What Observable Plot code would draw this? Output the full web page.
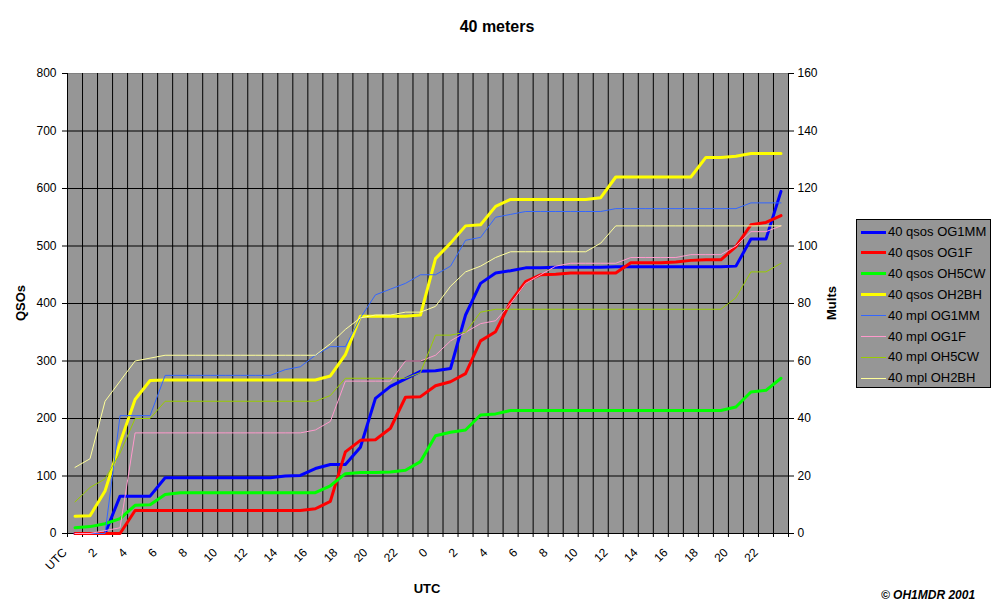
<!DOCTYPE html>
<html>
<head>
<meta charset="utf-8">
<script src="https://cdn.jsdelivr.net/npm/d3@7"></script>
<script src="https://cdn.jsdelivr.net/npm/@observablehq/plot@0.6"></script>
<style>
  html, body { margin: 0; padding: 0; background: #fff; }
  #wrap { position: relative; width: 995px; height: 611px; font-family: "Liberation Sans", Arial, sans-serif; color: #000; overflow: hidden; }
  #wrap svg { position: absolute; left: 0; top: 0; }
  .lbl { position: absolute; white-space: nowrap; line-height: 1; }
  #legend { position: absolute; left: 856px; top: 219px; width: 135px; height: 169px; box-sizing: border-box; border: 1px solid #000; background: #969696; }
  .row { position: absolute; left: 0; height: 16px; width: 133px; }
  .sw { position: absolute; left: 4px; width: 25px; }
  .tx { position: absolute; left: 31px; top: 0; font-size: 13px; line-height: 16px; white-space: nowrap; }
</style>
</head>
<body>
<div id="wrap"></div>
<script>
// Category labels (hours UTC, two days)
const hours = ["UTC","1","2","3","4","5","6","7","8","9","10","11","12","13","14","15","16","17","18","19","20","21","22","23",
               "0","1","2","3","4","5","6","7","8","9","10","11","12","13","14","15","16","17","18","19","20","21","22","23"];

// QSOs (left axis)
const qsoOG1MM = [0,0,0,65,65,65,97,97,97,97,97,97,97,97,100,101,113,120,120,150,235,256,269,282,283,287,380,435,453,457,462,462,463,463,463,463,464,464,464,464,464,464,464,464,465,512,512,595];
const qsoOG1F  = [0,0,0,0,40,40,40,40,40,40,40,40,40,40,40,40,43,56,142,162,163,183,237,238,257,264,278,335,351,403,438,450,451,453,453,453,453,471,471,471,472,475,476,476,499,537,541,553];
const qsoOH5CW = [10,12,17,26,49,50,68,71,71,71,71,71,71,71,71,71,71,83,104,106,106,107,110,125,170,176,180,206,208,214,214,214,214,214,214,214,214,214,214,214,214,214,214,214,220,246,249,270];
const qsoOH2BH = [30,31,74,158,233,266,267,267,267,267,267,267,267,267,267,267,267,274,311,378,378,378,378,380,478,505,535,537,569,581,581,581,581,581,581,584,620,620,620,620,620,620,654,654,656,661,661,661];

// Multipliers (right axis)
const mplOG1MM = [0,0,0,41,41,41,55,55,55,55,55,55,55,55,57,58,62,65,65,75,83,85,87,90,90,93,102,103,110,111,112,112,112,112,112,112,113,113,113,113,113,113,113,113,113,115,115,115];
const mplOG1F  = [0,0,1,2,35,35,35,35,35,35,35,35,35,35,35,35,36,39,53,53,53,53,60,60,62,67,70,73,74,80,87,90,93,94,94,94,94,96,96,96,96,97,97,97,100,105,105,107];
const mplOH5CW = [11,16,19,28,40,40,46,46,46,46,46,46,46,46,46,46,46,48,54,54,54,54,54,56,69,69,70,77,78,78,78,78,78,78,78,78,78,78,78,78,78,78,78,78,82,91,91,94];
const mplOH2BH = [23,26,46,53,60,61,62,62,62,62,62,62,62,62,62,62,62,66,71,75,76,76,77,77,79,86,91,93,96,98,98,98,98,98,98,101,107,107,107,107,107,107,107,107,107,107,107,107];

const leftMax = 800, rightMax = 160, ratio = leftMax / rightMax;

const series = [
  {name: "40 qsos OG1MM", values: qsoOG1MM, color: "#0000FF", width: 3, mult: false},
  {name: "40 qsos OG1F",  values: qsoOG1F,  color: "#FF0000", width: 3, mult: false},
  {name: "40 qsos OH5CW", values: qsoOH5CW, color: "#00FF00", width: 3, mult: false},
  {name: "40 qsos OH2BH", values: qsoOH2BH, color: "#FFFF00", width: 3, mult: false},
  {name: "40 mpl OG1MM",  values: mplOG1MM, color: "#3366FF", width: 1, mult: true},
  {name: "40 mpl OG1F",   values: mplOG1F,  color: "#FF99CC", width: 1, mult: true},
  {name: "40 mpl OH5CW",  values: mplOH5CW, color: "#99CC00", width: 1, mult: true},
  {name: "40 mpl OH2BH",  values: mplOH2BH, color: "#FFFF99", width: 1, mult: true}
];

const n = hours.length;
const labelPos = d3.range(0, n, 2).map(i => i + 0.5);

const lineMarks = series.map(s => Plot.line(s.values, {
  x: (d, i) => i + 0.5,
  y: d => s.mult ? d * ratio : d,
  stroke: s.color,
  strokeWidth: s.width,
  strokeLinejoin: "round"
}));

const chart = Plot.plot({
  width: 995,
  height: 611,
  marginLeft: 67,
  marginRight: 207,
  marginTop: 73,
  marginBottom: 78,
  x: {domain: [0, n], axis: null},
  y: {domain: [0, leftMax], axis: null},
  style: {fontFamily: "'Liberation Sans', Arial, sans-serif", fontSize: "12px", background: "transparent", color: "black", overflow: "visible"},
  marks: [
    Plot.frame({fill: "#969696", stroke: "#808080"}),
    Plot.gridX(d3.range(1, n), {stroke: "black", strokeOpacity: 1}),
    Plot.gridY(d3.range(100, leftMax, 100), {stroke: "black", strokeOpacity: 1}),
    Plot.ruleX([0, n], {stroke: "black"}),
    Plot.ruleY([0], {stroke: "black"}),
    Plot.axisY(d3.range(0, leftMax + 1, 100), {anchor: "left", tickSize: 5, tickPadding: 6, label: null}),
    Plot.axisY(d3.range(0, leftMax + 1, 100), {anchor: "right", tickSize: 5, tickPadding: 4, tickFormat: d => d / ratio, label: null}),
    Plot.axisX(d3.range(0, n + 1), {anchor: "bottom", tickSize: 4, tickFormat: () => "", label: null}),
    Plot.axisX(labelPos, {anchor: "bottom", tickSize: 0, tickPadding: 17, tickRotate: -45, dx: -10, tickFormat: d => hours[Math.floor(d)], label: null}),
    ...lineMarks
  ]
});

const wrap = document.getElementById("wrap");
wrap.appendChild(chart);

function addLabel(text, cx, cy, css, rot) {
  const el = document.createElement("div");
  el.className = "lbl";
  el.textContent = text;
  el.style.left = cx + "px";
  el.style.top = cy + "px";
  el.style.transform = "translate(-50%,-50%)" + (rot ? " rotate(" + rot + "deg)" : "");
  Object.assign(el.style, css);
  wrap.appendChild(el);
}
addLabel("40 meters", 497, 27, {fontSize: "16px", fontWeight: "bold"});
addLabel("QSOs", 20, 303, {fontSize: "13px", fontWeight: "bold"}, -90);
addLabel("Mults", 831, 303, {fontSize: "13px", fontWeight: "bold"}, -90);
addLabel("UTC", 427, 588, {fontSize: "13px", fontWeight: "bold"});
addLabel("\u00A9 OH1MDR 2001", 928, 595, {fontSize: "12px", fontWeight: "bold", fontStyle: "italic"});

const legend = document.createElement("div");
legend.id = "legend";
series.forEach((s, k) => {
  const row = document.createElement("div");
  row.className = "row";
  row.style.top = (4 + k * 20.9) + "px";
  const sw = document.createElement("div");
  sw.className = "sw";
  sw.style.height = s.width + "px";
  sw.style.top = (8 - s.width / 2) + "px";
  sw.style.background = s.color;
  const tx = document.createElement("div");
  tx.className = "tx";
  tx.textContent = s.name;
  row.appendChild(sw);
  row.appendChild(tx);
  legend.appendChild(row);
});
wrap.appendChild(legend);
</script>
</body>
</html>
